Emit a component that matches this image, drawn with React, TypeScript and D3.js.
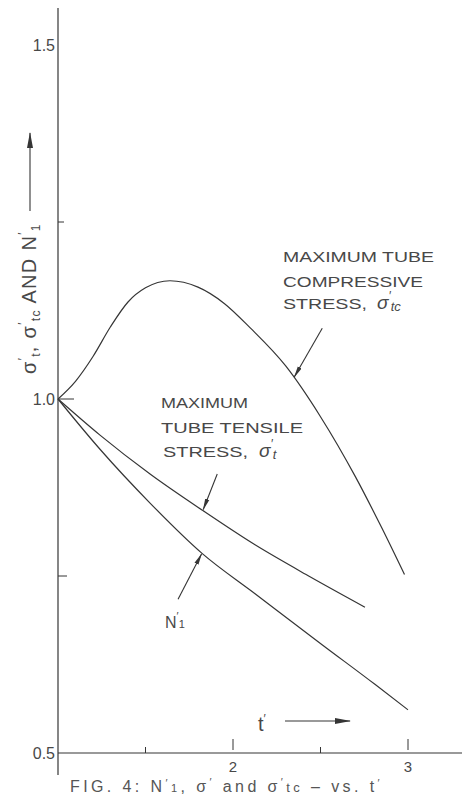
import React from "react";
import * as d3 from "d3";

// ---- data ----
const compT = [1.0, 1.1, 1.2, 1.3, 1.4, 1.5, 1.64, 1.8, 1.95, 2.1, 2.3, 2.5, 2.7, 2.85, 2.98];
const compV = [1.0, 1.025, 1.06, 1.102, 1.137, 1.157, 1.167, 1.158, 1.135, 1.1, 1.047, 0.975, 0.89, 0.818, 0.752];

const tensT = [1.0, 1.24, 1.526, 1.83, 2.126, 2.44, 2.754];
const tensV = [1.0, 0.949, 0.894, 0.842, 0.794, 0.749, 0.706];

const nT = [1.0, 1.24, 1.526, 1.823, 2.126, 2.509, 2.811, 3.0];
const nV = [1.0, 0.929, 0.853, 0.782, 0.725, 0.653, 0.597, 0.561];

const xMajor = [2, 3];
const xMinor = [1.5, 2.5];
const yTickLabels = ["1.5", "1.0", "0.5"];
const yTickValues = [1.5, 1.0, 0.5];

// annotation anchors (data coordinates)
const compArrow = { tail: [2.51, 1.1], tip: [2.35, 1.031] };
const tensArrow = { tail: [1.91, 0.894], tip: [1.83, 0.844] };
const nArrow = { tail: [1.686, 0.717], tip: [1.82, 0.781] };

const INK = "#353535";
const TXT = "#484848";
const FONT = "'Liberation Sans', Arial, sans-serif";

export default function App() {
  const x = d3.scaleLinear().domain([1, 3]).range([58, 408]);
  const y = d3.scaleLinear().domain([0.5, 1.5]).range([753, 45]);
  const line = d3
    .line<[number, number]>()
    .x((d) => x(d[0]))
    .y((d) => y(d[1]))
    .curve(d3.curveMonotoneX);

  const zip = (a: number[], b: number[]) => a.map((t, i) => [t, b[i]] as [number, number]);

  const arrow = (a: { tail: number[]; tip: number[] }, key: string) => (
    <line
      key={key}
      x1={x(a.tail[0])}
      y1={y(a.tail[1])}
      x2={x(a.tip[0])}
      y2={y(a.tip[1])}
      stroke={INK}
      strokeWidth={1.1}
      markerEnd="url(#ah)"
    />
  );

  const x0 = x(1);
  const yAxisBase = y(0.5);

  return (
    <svg
      width={462}
      height={797}
      style={{ position: "absolute", left: 0, top: 0, background: "#fff" }}
      fontFamily={FONT}
    >
      <defs>
        <marker id="ah" viewBox="0 0 12 6" refX="11" refY="3" markerWidth="12" markerHeight="6" markerUnits="userSpaceOnUse" orient="auto">
          <path d="M0,0.8 L12,3 L0,5.2 Z" fill={INK} />
        </marker>
        <marker id="ah2" viewBox="0 0 16 8" refX="15" refY="4" markerWidth="16" markerHeight="8" markerUnits="userSpaceOnUse" orient="auto">
          <path d="M0,1 L16,4 L0,7 Z" fill={INK} />
        </marker>
      </defs>

      {/* axes */}
      <line x1={x0} y1={8} x2={x0} y2={775} stroke={INK} strokeWidth={1.2} />
      <line x1={x0} y1={yAxisBase} x2={462} y2={yAxisBase} stroke={INK} strokeWidth={1.2} />

      {/* y ticks */}
      <line x1={x0} y1={y(1.0)} x2={x0 + 16} y2={y(1.0)} stroke={INK} strokeWidth={1} />
      <line x1={x0} y1={y(0.75)} x2={x0 + 9} y2={y(0.75)} stroke={INK} strokeWidth={1} />
      <line x1={x0} y1={y(1.25)} x2={x0 + 6} y2={y(1.25)} stroke={INK} strokeWidth={1} />
      {yTickValues.map((v, i) => (
        <text key={"yl" + i} x={x0 - 3} y={y(v) + 6} textAnchor="end" fontSize={16} fill={TXT}>
          {yTickLabels[i]}
        </text>
      ))}

      {/* x ticks */}
      {xMinor.map((t) => (
        <line key={"xm" + t} x1={x(t)} y1={yAxisBase} x2={x(t)} y2={yAxisBase - 6} stroke={INK} strokeWidth={1} />
      ))}
      {xMajor.map((t) => (
        <line key={"xM" + t} x1={x(t)} y1={yAxisBase - 3} x2={x(t)} y2={yAxisBase - 14} stroke={INK} strokeWidth={1} />
      ))}
      {xMajor.map((t) => (
        <text key={"xl" + t} x={x(t)} y={yAxisBase + 19} textAnchor="middle" fontSize={15} fill={TXT}>
          {String(t)}
        </text>
      ))}

      {/* curves */}
      <path d={line(zip(compT, compV)) || ""} fill="none" stroke={INK} strokeWidth={1.2} />
      <path d={line(zip(tensT, tensV)) || ""} fill="none" stroke={INK} strokeWidth={1.2} />
      <path d={line(zip(nT, nV)) || ""} fill="none" stroke={INK} strokeWidth={1.2} />

      {/* annotation arrows */}
      {arrow(compArrow, "ca")}
      {arrow(tensArrow, "ta")}
      {arrow(nArrow, "na")}

      {/* compressive label */}
      <g fontSize={15} fill={TXT}>
        <text x={283} y={262} textLength={151} lengthAdjust="spacingAndGlyphs">MAXIMUM TUBE</text>
        <text x={283} y={287} textLength={140} lengthAdjust="spacingAndGlyphs">COMPRESSIVE</text>
        <text x={283} y={309} textLength={84} lengthAdjust="spacingAndGlyphs">STRESS,</text>
        <text x={377} y={309} fontStyle="italic" fontSize={19}>
          σ<tspan dy={-9} fontSize={12}>′</tspan>
          <tspan dy={11} fontSize={13}>tc</tspan>
        </text>
      </g>

      {/* tensile label */}
      <g fontSize={15} fill={TXT}>
        <text x={161} y={408} textLength={87} lengthAdjust="spacingAndGlyphs">MAXIMUM</text>
        <text x={161} y={433} textLength={142} lengthAdjust="spacingAndGlyphs">TUBE TENSILE</text>
        <text x={163} y={457} textLength={85} lengthAdjust="spacingAndGlyphs">STRESS,</text>
        <text x={259} y={457} fontStyle="italic" fontSize={19}>
          σ<tspan dy={-9} fontSize={12}>′</tspan>
          <tspan dy={11} fontSize={13}>t</tspan>
        </text>
      </g>

      {/* N'1 label */}
      <text x={165} y={628} fontSize={16} fill={TXT}>
        N<tspan dy={-8} fontSize={11}>′</tspan>
        <tspan dy={8} fontSize={11}>1</tspan>
      </text>

      {/* t' axis label with arrow */}
      <text x={258} y={731} fontSize={20} fill={TXT}>
        t<tspan dy={-8} fontSize={12}>′</tspan>
      </text>
      <line x1={285} y1={721} x2={350} y2={721} stroke={INK} strokeWidth={1.1} markerEnd="url(#ah2)" />

      {/* y axis label with arrow */}
      <g transform="translate(36,374) rotate(-90)" fill={TXT}>
        <text x={0} y={0} fontSize={20} letterSpacing={1.3}>
          σ<tspan dy={-9} fontSize={12}>′</tspan>
          <tspan dy={13} fontSize={12}>t</tspan>
          <tspan dy={-4}>, σ</tspan>
          <tspan dy={-9} fontSize={12}>′</tspan>
          <tspan dy={13} fontSize={12}>tc</tspan>
          <tspan dy={-4}> AND N</tspan>
          <tspan dy={-9} fontSize={12}>′</tspan>
          <tspan dy={13} fontSize={12}>1</tspan>
        </text>
      </g>
      <line x1={30} y1={211} x2={30} y2={133} stroke={INK} strokeWidth={1.1} markerEnd="url(#ah2)" />

      {/* caption */}
      <text x={70} y={792} fontSize={16} fill="#555" letterSpacing={3.4}>
        FIG. 4: N<tspan dy={-5} fontSize={11}>′</tspan>
        <tspan dy={5} fontSize={11}>1</tspan>
        <tspan>, σ</tspan>
        <tspan dy={-6} fontSize={11}>′</tspan>
        <tspan dy={6}>{"  and  "}σ</tspan>
        <tspan dy={-6} fontSize={11}>′</tspan>
        <tspan dy={6} fontSize={13}>tc</tspan>
        <tspan>{" – vs. t"}</tspan>
        <tspan dy={-5} fontSize={11}>′</tspan>
      </text>
    </svg>
  );
}
